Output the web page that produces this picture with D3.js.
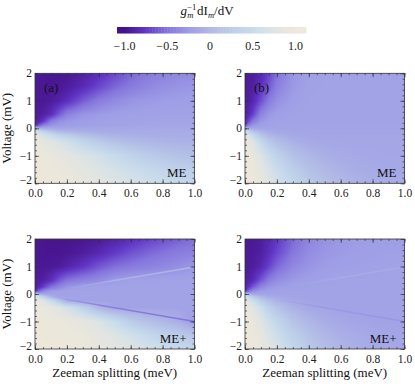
<!DOCTYPE html>
<html><head><meta charset="utf-8">
<script src="https://cdn.jsdelivr.net/npm/d3@7"></script>
<style>html,body{margin:0;padding:0;background:#fff;}svg{display:block;}</style>
</head><body>
<script>
// ---------- data ----------
const zeemanCols = [0, 0.025, 0.05, 0.1, 0.15, 0.2, 0.3, 0.4, 0.5, 0.6, 0.7, 0.8, 0.9, 1.0];
const voltageRows = [2, 1.5, 1, 0.5, 0.25, 0.1, 0, -0.1, -0.25, -0.5, -1, -1.5, -2];

const gridA = [
 [-0.95,-0.95,-0.96,-0.97,-0.97,-0.96,-0.9,-0.8,-0.68,-0.56,-0.48,-0.42,-0.38,-0.35],
 [-0.95,-0.95,-0.96,-0.96,-0.95,-0.92,-0.82,-0.68,-0.55,-0.45,-0.38,-0.33,-0.3,-0.28],
 [-0.94,-0.95,-0.95,-0.93,-0.88,-0.8,-0.6,-0.45,-0.36,-0.3,-0.27,-0.25,-0.24,-0.23],
 [-0.92,-0.92,-0.9,-0.8,-0.6,-0.42,-0.3,-0.26,-0.23,-0.22,-0.21,-0.2,-0.2,-0.2],
 [-0.9,-0.85,-0.75,-0.45,-0.32,-0.28,-0.24,-0.22,-0.2,-0.2,-0.19,-0.18,-0.18,-0.18],
 [-0.8,-0.6,-0.4,-0.3,-0.26,-0.24,-0.21,-0.2,-0.19,-0.18,-0.17,-0.17,-0.16,-0.16],
 [0.2,-0.1,-0.15,-0.15,-0.16,-0.16,-0.16,-0.16,-0.15,-0.15,-0.14,-0.14,-0.14,-0.14],
 [0.6,0.45,0.3,0.1,0.0,-0.05,-0.1,-0.12,-0.12,-0.12,-0.12,-0.12,-0.12,-0.12],
 [0.8,0.75,0.65,0.5,0.35,0.25,0.1,0.0,-0.05,-0.08,-0.09,-0.1,-0.1,-0.1],
 [0.9,0.88,0.85,0.78,0.7,0.6,0.4,0.25,0.12,0.05,0.0,-0.03,-0.05,-0.06],
 [0.95,0.94,0.93,0.9,0.87,0.83,0.72,0.6,0.48,0.35,0.25,0.17,0.12,0.08],
 [0.96,0.96,0.95,0.93,0.91,0.89,0.82,0.74,0.64,0.55,0.46,0.38,0.3,0.25],
 [0.97,0.97,0.96,0.95,0.94,0.92,0.87,0.82,0.75,0.67,0.6,0.52,0.46,0.4]
];
const gridB = [
 [-0.93,-0.93,-0.92,-0.85,-0.7,-0.5,-0.3,-0.22,-0.2,-0.19,-0.19,-0.19,-0.19,-0.19],
 [-0.93,-0.92,-0.9,-0.78,-0.6,-0.42,-0.27,-0.21,-0.2,-0.19,-0.19,-0.19,-0.19,-0.19],
 [-0.92,-0.9,-0.85,-0.65,-0.45,-0.32,-0.23,-0.2,-0.19,-0.19,-0.19,-0.19,-0.19,-0.19],
 [-0.9,-0.82,-0.7,-0.4,-0.28,-0.23,-0.2,-0.19,-0.19,-0.19,-0.19,-0.19,-0.19,-0.19],
 [-0.85,-0.65,-0.45,-0.28,-0.22,-0.2,-0.19,-0.19,-0.19,-0.19,-0.19,-0.19,-0.19,-0.19],
 [-0.7,-0.4,-0.28,-0.22,-0.2,-0.19,-0.19,-0.19,-0.19,-0.19,-0.19,-0.19,-0.19,-0.19],
 [0.1,-0.15,-0.18,-0.18,-0.18,-0.18,-0.18,-0.18,-0.18,-0.18,-0.18,-0.18,-0.18,-0.18],
 [0.6,0.3,0.1,-0.05,-0.12,-0.15,-0.17,-0.18,-0.18,-0.18,-0.18,-0.18,-0.18,-0.18],
 [0.8,0.65,0.45,0.15,0.0,-0.08,-0.14,-0.16,-0.17,-0.17,-0.17,-0.17,-0.17,-0.17],
 [0.9,0.85,0.75,0.45,0.22,0.08,-0.06,-0.12,-0.15,-0.16,-0.17,-0.17,-0.17,-0.17],
 [0.95,0.92,0.88,0.72,0.52,0.35,0.12,0.0,-0.08,-0.12,-0.14,-0.15,-0.16,-0.16],
 [0.96,0.95,0.92,0.82,0.68,0.52,0.28,0.12,0.02,-0.05,-0.1,-0.12,-0.14,-0.15],
 [0.97,0.96,0.94,0.87,0.77,0.64,0.4,0.22,0.1,0.02,-0.04,-0.08,-0.1,-0.12]
];
const gridC = [
 [-0.95,-0.96,-0.97,-0.98,-0.98,-0.98,-0.97,-0.94,-0.88,-0.8,-0.72,-0.65,-0.58,-0.52],
 [-0.95,-0.96,-0.97,-0.97,-0.97,-0.96,-0.92,-0.84,-0.74,-0.64,-0.56,-0.5,-0.45,-0.42],
 [-0.94,-0.95,-0.96,-0.95,-0.93,-0.88,-0.76,-0.62,-0.52,-0.46,-0.42,-0.38,-0.34,-0.28],
 [-0.92,-0.92,-0.9,-0.8,-0.62,-0.5,-0.42,-0.36,-0.26,-0.22,-0.21,-0.2,-0.2,-0.2],
 [-0.9,-0.85,-0.72,-0.5,-0.4,-0.3,-0.22,-0.2,-0.2,-0.2,-0.2,-0.2,-0.2,-0.2],
 [-0.8,-0.55,-0.38,-0.25,-0.22,-0.2,-0.2,-0.2,-0.2,-0.2,-0.2,-0.2,-0.2,-0.2],
 [0.3,-0.1,-0.18,-0.2,-0.2,-0.2,-0.2,-0.2,-0.2,-0.2,-0.2,-0.2,-0.2,-0.2],
 [0.75,0.55,0.3,-0.05,-0.18,-0.2,-0.2,-0.2,-0.2,-0.2,-0.2,-0.2,-0.2,-0.2],
 [0.88,0.85,0.78,0.5,0.2,-0.1,-0.2,-0.2,-0.2,-0.2,-0.2,-0.2,-0.2,-0.2],
 [0.93,0.92,0.9,0.85,0.78,0.65,0.35,0.0,-0.18,-0.2,-0.2,-0.2,-0.2,-0.2],
 [0.96,0.95,0.95,0.93,0.92,0.9,0.85,0.72,0.5,0.25,0.1,0.0,-0.1,-0.25],
 [0.97,0.96,0.96,0.95,0.94,0.93,0.9,0.84,0.74,0.6,0.45,0.32,0.22,0.14],
 [0.97,0.97,0.97,0.96,0.95,0.94,0.92,0.88,0.82,0.74,0.64,0.55,0.47,0.4]
];
const gridD = [
 [-0.94,-0.95,-0.95,-0.92,-0.85,-0.75,-0.55,-0.4,-0.32,-0.28,-0.26,-0.25,-0.24,-0.24],
 [-0.94,-0.94,-0.94,-0.9,-0.8,-0.68,-0.48,-0.35,-0.29,-0.26,-0.24,-0.23,-0.22,-0.22],
 [-0.93,-0.93,-0.92,-0.85,-0.7,-0.55,-0.38,-0.3,-0.25,-0.23,-0.22,-0.21,-0.2,-0.2],
 [-0.9,-0.88,-0.82,-0.62,-0.45,-0.35,-0.27,-0.23,-0.21,-0.2,-0.2,-0.2,-0.2,-0.2],
 [-0.88,-0.75,-0.6,-0.4,-0.3,-0.26,-0.22,-0.2,-0.2,-0.2,-0.2,-0.2,-0.2,-0.2],
 [-0.75,-0.5,-0.35,-0.25,-0.22,-0.2,-0.2,-0.2,-0.2,-0.2,-0.2,-0.2,-0.2,-0.2],
 [0.2,-0.1,-0.18,-0.2,-0.2,-0.2,-0.2,-0.2,-0.2,-0.2,-0.2,-0.2,-0.2,-0.2],
 [0.65,0.4,0.2,0.0,-0.1,-0.15,-0.18,-0.2,-0.2,-0.2,-0.2,-0.2,-0.2,-0.2],
 [0.82,0.7,0.55,0.25,0.08,-0.04,-0.14,-0.18,-0.2,-0.2,-0.2,-0.2,-0.2,-0.2],
 [0.9,0.86,0.8,0.55,0.32,0.15,-0.05,-0.14,-0.18,-0.2,-0.2,-0.2,-0.2,-0.2],
 [0.95,0.93,0.9,0.75,0.58,0.4,0.15,0.0,-0.1,-0.15,-0.18,-0.19,-0.2,-0.2],
 [0.96,0.95,0.93,0.84,0.72,0.56,0.3,0.12,0.0,-0.08,-0.12,-0.15,-0.17,-0.18],
 [0.97,0.96,0.95,0.88,0.8,0.68,0.42,0.22,0.08,-0.02,-0.08,-0.12,-0.14,-0.16]
];
// thin ridge lines in ME+ panels: [zeeman0, volt0, zeeman1, volt1, value]
const ridgesC = [[0.2, 0.2, 1.0, 0.98, -0.02], [0.1, -0.1, 1.0, -1.0, -0.5]];
const ridgesD = [[0.3, 0.3, 1.0, 0.98, -0.12], [0.2, -0.2, 1.0, -1.0, -0.3]];

const colorStops = [-1, -0.75, -0.5, -0.25, 0, 0.25, 0.5, 0.75, 1];
const colorHex = ["#46128a", "#6136c6", "#8474dc", "#9e9de6", "#b0b8e6", "#bccde9", "#c9dcec", "#dfe4e3", "#f0e8d8"];
const cbarTicks = [-1, -0.5, 0, 0.5, 1];
const cbarTickLabels = ["\u22121.0", "\u22120.5", "0", "0.5", "1.0"];
const xTicks = [0, 0.2, 0.4, 0.6, 0.8, 1.0];
const yTicks = [-2, -1, 0, 1, 2];

// ---------- drawing ----------
const W = 415, H = 387;
const FONT = "Liberation Serif, DejaVu Serif, serif";
const TICKFS = 11.5;
const color = d3.scaleLinear().domain(colorStops).range(colorHex).interpolate(d3.interpolateRgb).clamp(true);

const svg = d3.select("body").append("svg").attr("width", W).attr("height", H)
  .attr("font-family", FONT);

const PW = 159.5, PH = 110;
const panels = [
  {grid: gridA, left: 35, top: 73.3, label: "(a)", tag: "ME", ridges: [], ylab: true, xlab: false},
  {grid: gridB, left: 245, top: 73.3, label: "(b)", tag: "ME", ridges: [], ylab: false, xlab: false},
  {grid: gridC, left: 35, top: 239, label: "", tag: "ME+", ridges: ridgesC, ylab: true, xlab: true},
  {grid: gridD, left: 245, top: 239, label: "", tag: "ME+", ridges: ridgesD, ylab: false, xlab: true}
];

const vAsc = voltageRows.slice().reverse();
function sample(grid, z, v) {
  let i = d3.bisectRight(zeemanCols, z) - 1;
  i = Math.max(0, Math.min(zeemanCols.length - 2, i));
  const tz = (z - zeemanCols[i]) / (zeemanCols[i + 1] - zeemanCols[i]);
  let j = d3.bisectRight(vAsc, v) - 1;
  j = Math.max(0, Math.min(vAsc.length - 2, j));
  const tv = (v - vAsc[j]) / (vAsc[j + 1] - vAsc[j]);
  const r0 = voltageRows.length - 1 - j, r1 = r0 - 1;
  const a = grid[r0][i] * (1 - tz) + grid[r0][i + 1] * tz;
  const b = grid[r1][i] * (1 - tz) + grid[r1][i + 1] * tz;
  return a * (1 - tv) + b * tv;
}

const defs = svg.append("defs");

panels.forEach((p, k) => {
  const x = d3.scaleLinear().domain([0, 1]).range([p.left, p.left + PW]);
  const y = d3.scaleLinear().domain([-2, 2]).range([p.top + PH, p.top]);
  const g = svg.append("g");

  // heatmap raster
  const scale = 2;
  const cw = Math.round(PW * scale), ch = Math.round(PH * scale);
  const canvas = document.createElement("canvas");
  canvas.width = cw; canvas.height = ch;
  const ctx = canvas.getContext("2d");
  const img = ctx.createImageData(cw, ch);
  for (let py = 0; py < ch; py++) {
    const v = y.invert(p.top + (py + 0.5) / scale);
    for (let px = 0; px < cw; px++) {
      const z = x.invert(p.left + (px + 0.5) / scale);
      const c = d3.rgb(color(sample(p.grid, z, v)));
      const o = (py * cw + px) * 4;
      img.data[o] = c.r; img.data[o + 1] = c.g; img.data[o + 2] = c.b; img.data[o + 3] = 255;
    }
  }
  ctx.putImageData(img, 0, 0);
  g.append("image").attr("x", p.left).attr("y", p.top).attr("width", PW).attr("height", PH)
    .attr("preserveAspectRatio", "none").attr("href", canvas.toDataURL());

  // ridge lines
  const clipId = "clip" + k;
  defs.append("clipPath").attr("id", clipId).append("rect")
    .attr("x", p.left).attr("y", p.top).attr("width", PW).attr("height", PH);
  p.ridges.forEach((r, ri) => {
    const gid = "rg" + k + "_" + ri;
    const lg = defs.append("linearGradient").attr("id", gid).attr("gradientUnits", "userSpaceOnUse")
      .attr("x1", x(r[0])).attr("y1", y(r[1])).attr("x2", x(r[2])).attr("y2", y(r[3]));
    lg.append("stop").attr("offset", 0).attr("stop-color", color(r[4])).attr("stop-opacity", 0);
    lg.append("stop").attr("offset", 0.35).attr("stop-color", color(r[4])).attr("stop-opacity", 0.8);
    lg.append("stop").attr("offset", 1).attr("stop-color", color(r[4])).attr("stop-opacity", 1);
    g.append("path").attr("clip-path", `url(#${clipId})`)
      .attr("d", d3.line()([[x(r[0]), y(r[1])], [x(r[2]), y(r[3])]]))
      .attr("stroke", `url(#${gid})`).attr("stroke-width", 1.5).attr("fill", "none");
  });

  // frame & ticks
  const minorX = d3.range(0, 1.0001, 0.05);
  const minorY = d3.range(-2, 2.0001, 0.2);
  function styleAxis(sel) {
    sel.attr("font-family", FONT).attr("font-size", TICKFS);
    sel.select(".domain").remove();
    sel.selectAll("line").attr("stroke", "#333").attr("stroke-width", 0.7);
    sel.selectAll("text").attr("fill", "#222");
  }
  g.append("g").attr("transform", `translate(0,${p.top + PH})`)
    .call(d3.axisBottom(x).tickValues(minorX).tickSize(-2).tickFormat("")).call(styleAxis);
  g.append("g").attr("transform", `translate(0,${p.top + PH})`)
    .call(d3.axisBottom(x).tickValues(xTicks).tickSize(-4).tickPadding(5.5).tickFormat(d3.format(".1f"))).call(styleAxis);
  g.append("g").attr("transform", `translate(0,${p.top})`)
    .call(d3.axisTop(x).tickValues(minorX).tickSize(-2).tickFormat("")).call(styleAxis);
  g.append("g").attr("transform", `translate(0,${p.top})`)
    .call(d3.axisTop(x).tickValues(xTicks).tickSize(-4).tickFormat("")).call(styleAxis);
  g.append("g").attr("transform", `translate(${p.left},0)`)
    .call(d3.axisLeft(y).tickValues(minorY).tickSize(-2).tickFormat("")).call(styleAxis);
  const yAx = g.append("g").attr("transform", `translate(${p.left},0)`)
    .call(d3.axisLeft(y).tickValues(yTicks).tickSize(-4).tickPadding(3).tickFormat(d3.format("d"))).call(styleAxis);
  // lift the bottom label a little so it clears the x tick labels
  yAx.selectAll(".tick text").filter(d => d === -2).attr("dy", "0.05em");
  g.append("g").attr("transform", `translate(${p.left + PW},0)`)
    .call(d3.axisRight(y).tickValues(minorY).tickSize(-2).tickFormat("")).call(styleAxis);
  g.append("g").attr("transform", `translate(${p.left + PW},0)`)
    .call(d3.axisRight(y).tickValues(yTicks).tickSize(-4).tickFormat("")).call(styleAxis);
  g.append("rect").attr("x", p.left).attr("y", p.top).attr("width", PW).attr("height", PH)
    .attr("fill", "none").attr("stroke", "#333").attr("stroke-width", 0.8);

  // labels
  if (p.label) g.append("text").attr("x", p.left + 9).attr("y", p.top + 19)
    .attr("font-size", 13).attr("fill", "#111").text(p.label);
  g.append("text").attr("x", p.left + PW - 8).attr("y", p.top + PH - 6).attr("text-anchor", "end")
    .attr("font-size", 13).attr("fill", "#111").text(p.tag);
  if (p.ylab) g.append("text").attr("transform", `translate(${p.left - 24},${p.top + PH / 2}) rotate(-90)`)
    .attr("text-anchor", "middle").attr("font-size", 13).attr("fill", "#111").text("Voltage (mV)");
  if (p.xlab) g.append("text").attr("x", p.left + PW / 2).attr("y", p.top + PH + 28)
    .attr("text-anchor", "middle").attr("font-size", 13).attr("fill", "#111").text("Zeeman splitting (meV)");
});

// ---------- colour bar ----------
const cb = d3.scaleLinear().domain([-1, 1]).range([124.5, 295.5]);
const cbLeft = 117, cbRight = 306, cbTop = 27, cbH = 6.5;
const nSteps = 64;
const stepVals = d3.range(nSteps).map(i => cb.invert(cbLeft + (i + 0.5) * (cbRight - cbLeft) / nSteps));
svg.append("g").selectAll("rect").data(stepVals).join("rect")
  .attr("x", (d, i) => cbLeft + i * (cbRight - cbLeft) / nSteps)
  .attr("y", cbTop).attr("width", (cbRight - cbLeft) / nSteps + 0.4).attr("height", cbH)
  .attr("fill", d => color(d));
svg.append("g").selectAll("text").data(cbarTicks).join("text")
  .attr("x", d => cb(d)).attr("y", 50).attr("text-anchor", "middle")
  .attr("font-size", 12).attr("fill", "#222").text((d, i) => cbarTickLabels[i]);

// colour-bar title: g_m^{-1} dI_m / dV, pieces placed one after another
const tg = svg.append("g").attr("fill", "#111");
const base = 15;
function piece(t, fs, italic, dy) {
  return tg.append("text").attr("y", base + dy).attr("font-size", fs)
    .attr("font-style", italic ? "italic" : "normal").text(t);
}
let cx = 0;
const gN = piece("g", 13, true, 0).attr("x", cx); cx += gN.node().getComputedTextLength() + 0.3;
const sub1 = piece("m", 8.5, true, 3).attr("x", cx);
const sup1 = piece("\u22121", 8.5, false, -5.5).attr("x", cx);
cx += Math.max(sub1.node().getComputedTextLength(), sup1.node().getComputedTextLength()) + 0.8;
const dI = piece("dI", 13, false, 0).attr("x", cx); cx += dI.node().getComputedTextLength();
const sub2 = piece("m", 8.5, true, 3).attr("x", cx); cx += sub2.node().getComputedTextLength();
const dV = piece("/dV", 13, false, 0).attr("x", cx); cx += dV.node().getComputedTextLength();
tg.attr("transform", `translate(${207 - cx / 2},0)`);
</script>
</body></html>
